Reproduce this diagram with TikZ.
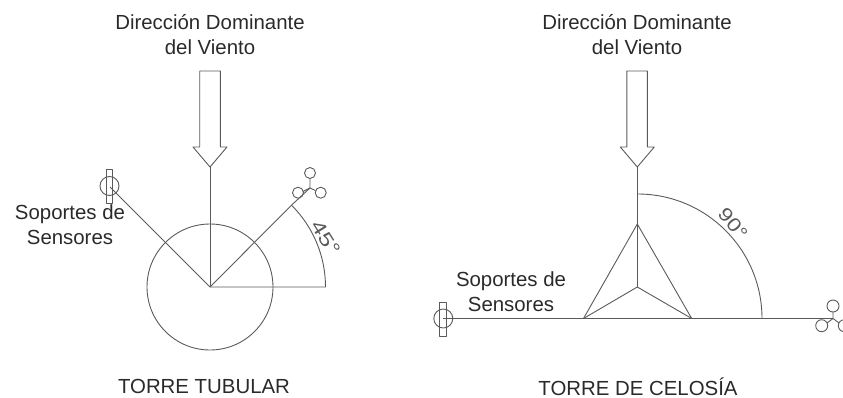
\documentclass[tikz,border=0pt]{standalone}
\usepackage{fontspec}
\setmainfont{Liberation Sans}
\definecolor{ink}{HTML}{5A5A5A}
\definecolor{txt}{HTML}{2A2A2A}
\tikzset{
  x=1pt,y=-1pt,
  part/.style={draw=ink,line width=0.9pt,line join=round},
  label text/.style={text=txt,font=\fontsize{20.4}{25}\selectfont,align=center,inner sep=0pt},
  angle text/.style={text=ink,font=\fontsize{19}{19}\selectfont,inner sep=0pt,transform shape},
}
\begin{document}
\begin{tikzpicture}
\useasboundingbox (0,0) rectangle (843,398);
% --- left: tubular tower
\coordinate (lc) at (210,287);
\coordinate (ltip) at (210,167);
\coordinate (larmR) at (291.7,205);
\coordinate (larmL) at (110,187);
\coordinate (larcE) at (325.5,287);
\draw[part] (lc) circle[radius=63];
\draw[part] (199.7,71) -- (220.3,71) -- (220.3,147) -- (227,147) -- (ltip) -- (193,147) -- (199.7,147) -- cycle;
\draw[part] (ltip) -- (lc);
\draw[part] (larmR) -- (lc) -- (larmL);
\draw[part] (lc) -- (larcE) arc[start angle=0,end angle=-45,radius=115.5];
% left vane sensor
\draw[part] (106,169) rectangle (112.7,203);
\draw[part] (109.5,186) circle[radius=9.5];
% left cup sensor
\coordinate (lcup) at (310,188);
\draw[part] (larmR) -- (lcup);
\draw[part] (lcup) -- (310,178.5) (lcup) -- (315.5,190.5) (lcup) -- (303,191.5);
\draw[part] (310,173) circle[radius=5.5];
\draw[part] (320.7,192.7) circle[radius=5.5];
\draw[part] (298,192.7) circle[radius=5.5];
% --- right: lattice tower
\coordinate (rc) at (637.3,287);
\coordinate (rtip) at (637.3,167);
\coordinate (rapex) at (637.3,224);
\coordinate (rbl) at (583.5,318.5);
\coordinate (rbr) at (691.7,318.5);
\coordinate (rarcE) at (762,318.5);
\coordinate (rvane) at (443.3,318.5);
\coordinate (rcup) at (833,318.5);
\draw[part] (626.8,71) -- (647.4,71) -- (647.4,147) -- (654.3,147) -- (rtip) -- (620.3,147) -- (626.8,147) -- cycle;
\draw[part] (rtip) -- (rc);
\draw[part] (rapex) -- (rbl) -- (rbr) -- cycle;
\draw[part] (rbl) -- (rc) -- (rbr);
\draw[part] (rvane) -- (rcup);
\draw[part] (rarcE) arc[start angle=0,end angle=-90,radius=124.5];
% right vane sensor
\draw[part] (439,302) rectangle (446,336);
\draw[part] (rvane) circle[radius=9.5];
% right cup sensor
\draw[part] (rcup) -- (833,312) (rcup) -- (827,323) (rcup) -- (839,323);
\draw[part] (833,306) circle[radius=6];
\draw[part] (821.7,325.7) circle[radius=6];
\draw[part] (844.3,325.7) circle[radius=6];
% --- labels
\node[label text] (ldir) at (210,35) {Dirección Dominante\\del Viento};
\node[label text] (rdir) at (637,35) {Dirección Dominante\\del Viento};
\node[label text] (lsop) at (70,225) {Soportes de\\Sensores};
\node[label text] (rsop) at (511,292) {Soportes de\\Sensores};
\node[label text,anchor=base] (ltorre) at (204,393) {TORRE TUBULAR};
\node[label text,anchor=base] (rtorre) at (638,395) {TORRE DE CELOSÍA};
\node[angle text,rotate=-58,xscale=1.3] (a45) at (326,238) {45°};
\node[angle text,rotate=-50,xscale=1.2] (a90) at (733,224) {90°};
\end{tikzpicture}
\end{document}
